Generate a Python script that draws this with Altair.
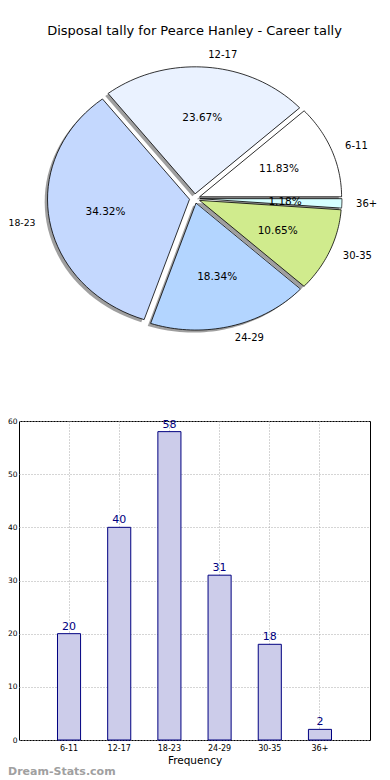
import altair as alt
import pandas as pd

# ---- data ----
categories = ["6-11", "12-17", "18-23", "24-29", "30-35", "36+"]
counts = [20, 40, 58, 31, 18, 2]
pie_colors = ["#ffffff", "#eaf2ff", "#c4d8fe", "#b3d5ff", "#d0eb8d", "#d5ffff"]
y_ticks = [0, 10, 20, 30, 40, 50, 60]
title_text = "Disposal tally for Pearce Hanley - Career tally"
x_title = "Frequency"
watermark = "Dream-Stats.com"

df = pd.DataFrame({"cat": categories, "count": counts, "idx": list(range(len(categories)))})

# ---- layout constants ----
PIE_W, PIE_H = 351, 320
BAR_W, BAR_H = 351, 319
EXPLODE = 0.037
XDOM = [-1.2373, 1.2345]
YDOM = [-1.2874, 1.2323]
FONT = "DejaVu Sans"

xs = alt.Scale(domain=XDOM, nice=False, zero=False)
ys = alt.Scale(domain=YDOM, nice=False, zero=False)
fill_scale = alt.Scale(domain=categories, range=pie_colors)

base = (
    alt.Chart(df)
    .transform_window(cum="sum(count)", sort=[alt.SortField("idx")])
    .transform_joinaggregate(total="sum(count)")
    .transform_calculate(
        a0="2*PI*(datum.cum-datum.count)/datum.total",
        a1="2*PI*datum.cum/datum.total",
    )
    .transform_calculate(mid="(datum.a0+datum.a1)/2")
    .transform_calculate(
        ex=f"{EXPLODE}*cos(datum.mid)",
        ey=f"{EXPLODE}*sin(datum.mid)",
        pct="format(100*datum.count/datum.total, '.2f') + '%'",
    )
)

wedge_pts = (
    base.transform_calculate(s="sequence(0, 43)")
    .transform_flatten(["s"])
    .transform_calculate(
        t="datum.s <= 40 ? datum.a0 + (datum.a1-datum.a0)*datum.s/40 : datum.a0",
        r="datum.s == 41 ? 0 : 1",
    )
    .transform_calculate(
        px="datum.ex + datum.r*cos(datum.t)",
        py="datum.ey + datum.r*sin(datum.t)",
    )
    .transform_calculate(sx="datum.px - 0.02", sy="datum.py - 0.02")
)

shadow = wedge_pts.mark_line(
    filled=True, fill="#404040", fillOpacity=0.5, strokeWidth=0, interpolate="linear"
).encode(
    x=alt.X("sx:Q", scale=xs, axis=None),
    y=alt.Y("sy:Q", scale=ys, axis=None),
    order=alt.Order("s:Q"),
    detail="cat:N",
)

wedges = wedge_pts.mark_line(
    stroke="black", strokeWidth=0.8, interpolate="linear", strokeJoin="miter"
).encode(
    x=alt.X("px:Q", scale=xs, axis=None),
    y=alt.Y("py:Q", scale=ys, axis=None),
    order=alt.Order("s:Q"),
    detail="cat:N",
    fill=alt.Fill("cat:N", scale=fill_scale, legend=None),
)

lab = base.transform_calculate(
    lx="datum.ex + 1.1*cos(datum.mid)",
    ly="datum.ey + 1.1*sin(datum.mid)",
    qx="datum.ex + 0.6*cos(datum.mid)",
    qy="datum.ey + 0.6*sin(datum.mid)",
)

labels_right = lab.transform_filter("datum.lx > 0").mark_text(
    align="left", baseline="middle", font=FONT, fontSize=10, color="black"
).encode(
    x=alt.X("lx:Q", scale=xs, axis=None),
    y=alt.Y("ly:Q", scale=ys, axis=None),
    text="cat:N",
)
labels_left = lab.transform_filter("datum.lx <= 0").mark_text(
    align="right", baseline="middle", font=FONT, fontSize=9.3, color="black"
).encode(
    x=alt.X("lx:Q", scale=xs, axis=None),
    y=alt.Y("ly:Q", scale=ys, axis=None),
    text="cat:N",
)
pcts = lab.mark_text(
    align="center", baseline="middle", font=FONT, fontSize=10.5, color="black"
).encode(
    x=alt.X("qx:Q", scale=xs, axis=None),
    y=alt.Y("qy:Q", scale=ys, axis=None),
    text="pct:N",
)

pie = alt.layer(shadow, wedges, labels_right, labels_left, pcts).properties(
    width=PIE_W,
    height=PIE_H,
    title=alt.TitleParams(
        title_text, font=FONT, fontSize=13, fontWeight="normal", anchor="middle",
        color="black", offset=4, frame="group",
    ),
    view=alt.ViewBackground(stroke=None),
)

# ---- bar chart ----
bar_base = alt.Chart(df).encode(
    x=alt.X(
        "cat:N",
        sort=categories,
        scale=alt.Scale(paddingInner=0.54, paddingOuter=0.767),
        axis=alt.Axis(
            title=x_title, titleFont=FONT, titleFontSize=10.5, titleFontWeight="normal",
            titleColor="black", titlePadding=3,
            labelAngle=0, labelFont=FONT, labelFontSize=8, labelColor="black", labelPadding=4,
            ticks=False, tickSize=0, domain=False, grid=True, gridDash=[1, 2], gridColor="#aaaaaa",
            bandPosition=0.5, minExtent=0,
        ),
    ),
    y=alt.Y(
        "count:Q",
        scale=alt.Scale(domain=[0, 60], nice=False),
        axis=alt.Axis(
            title=None, values=y_ticks, labelFont=FONT, labelFontSize=7.5, labelColor="black",
            labelPadding=2, ticks=False, tickSize=0, domain=False, grid=True, gridDash=[1, 2],
            gridColor="#aaaaaa", minExtent=0,
        ),
    ),
)
bars = bar_base.mark_bar(fill="#ccccea", stroke="#000080", strokeWidth=1)
vals = bar_base.mark_text(
    baseline="alphabetic", dy=-4, font=FONT, fontSize=11, color="#000080"
).encode(text="count:Q")

bar = alt.layer(bars, vals).properties(
    width=BAR_W,
    height=BAR_H,
    view=alt.ViewBackground(stroke="black", strokeWidth=1),
    title=alt.TitleParams(
        watermark, orient="bottom", anchor="start", font=FONT, fontSize=11,
        fontWeight="bold", color="#a0a0a0", dx=-11, offset=0, frame="group",
    ),
)

chart = alt.vconcat(pie, bar, spacing=59, bounds="flush").properties(
    padding={"left": -2, "top": 17, "right": 0, "bottom": 0}
)

chart.save("out.html", embed_options={"renderer": "svg", "actions": False})
